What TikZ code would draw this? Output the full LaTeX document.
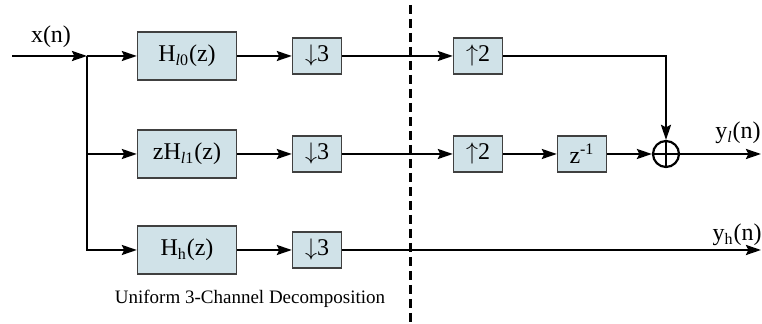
\documentclass[tikz,border=0pt]{standalone}
\usepackage{fontspec}
\setmainfont{Liberation Serif}
\usetikzlibrary{arrows.meta}
\definecolor{boxfill}{RGB}{208,226,232}
\tikzset{
	filt/.style={draw=black!75, line width=0.7pt, fill=boxfill, minimum width=49.5pt, minimum height=24pt, inner sep=0pt, font=\fontsize{12}{14}\selectfont},
	rate/.style={filt, minimum width=24.5pt, minimum height=18pt},
	wire/.style={line width=1.1pt},
	sig/.style={wire, -{Stealth[length=7.5pt,width=5pt,inset=1.2pt]}},
	lbl/.style={font=\fontsize{12}{14}\selectfont},
	sumnode/.style={circle, draw, line width=1.1pt, minimum size=13pt, inner sep=0pt},
	divider/.style={line width=1.5pt, dash pattern=on 4.5pt off 2.5pt}
}
\begin{document}
\begin{tikzpicture}[x=0.5pt,y=-0.5pt]
	\useasboundingbox (0,0) rectangle (762,324);
	% Define input x(n)
	\coordinate (In) at (12,56);
	\coordinate (Branch) at (87,56);
	\node[lbl] (Xn) at (51,37) {x(n)};
	\draw[sig] (In) -- (Branch);
	
	% Define adder and outputs
	\node[sumnode] (Sum) at (666,154) {};
	\draw[line width=0.9pt] (Sum.north) -- (Sum.south) (Sum.west) -- (Sum.east);
	\coordinate (OutL) at (761,154);
	\coordinate (OutH) at (761,250);
	\node[lbl] (Yl) at (738,133) {y\textsubscript{\textit{l}}(n)};
	\node[lbl] (Yh) at (737,235) {y\textsubscript{h}(n)};
	
	% Define row l0
	\node[filt] (Hl0) at (187,56) {H\textsubscript{\textit{l}0}(z)};
	\node[rate] (Down1) at (317,56) {$\downarrow$3};
	\node[rate] (Up1) at (478,56) {$\uparrow$2};
	
	\draw[sig] (Branch) -- (Hl0);
	\draw[sig] (Hl0) -- (Down1);
	\draw[sig] (Down1) -- (Up1);
	\draw[sig] (Up1) -| (Sum);
	
	% Define row l1
	\node[filt] (Hl1) at (187,154) {zH\textsubscript{\textit{l}1}(z)};
	\node[rate] (Down2) at (317,154) {$\downarrow$3};
	\node[rate] (Up2) at (478,154) {$\uparrow$2};
	\node[rate] (Delay) at (582,154) {z\textsuperscript{-1}};
	\coordinate (Branch2) at (87,154);
	
	\draw[wire] (Branch) -- (Branch2);
	\draw[sig] (Branch2) -- (Hl1);
	\draw[sig] (Hl1) -- (Down2);
	\draw[sig] (Down2) -- (Up2);
	\draw[sig] (Up2) -- (Delay);
	\draw[sig] (Delay) -- (Sum);
	\draw[sig] (Sum) -- (OutL);
	
	% Define row h
	\node[filt] (Hh) at (187,250) {H\textsubscript{h}(z)};
	\node[rate] (Down3) at (317,250) {$\downarrow$3};
	
	\draw[sig] (Branch2) |- (Hh);
	\draw[sig] (Hh) -- (Down3);
	\draw[sig] (Down3) -- (OutH);
	
	% Define divider and caption
	\coordinate (DivTop) at (410,5);
	\coordinate (DivBot) at (410,324);
	\draw[divider] (DivTop) -- (DivBot);
	\node[font=\fontsize{9.5}{11}\selectfont] (Caption) at (250,299) {Uniform 3-Channel Decomposition};
\end{tikzpicture}
\end{document}
